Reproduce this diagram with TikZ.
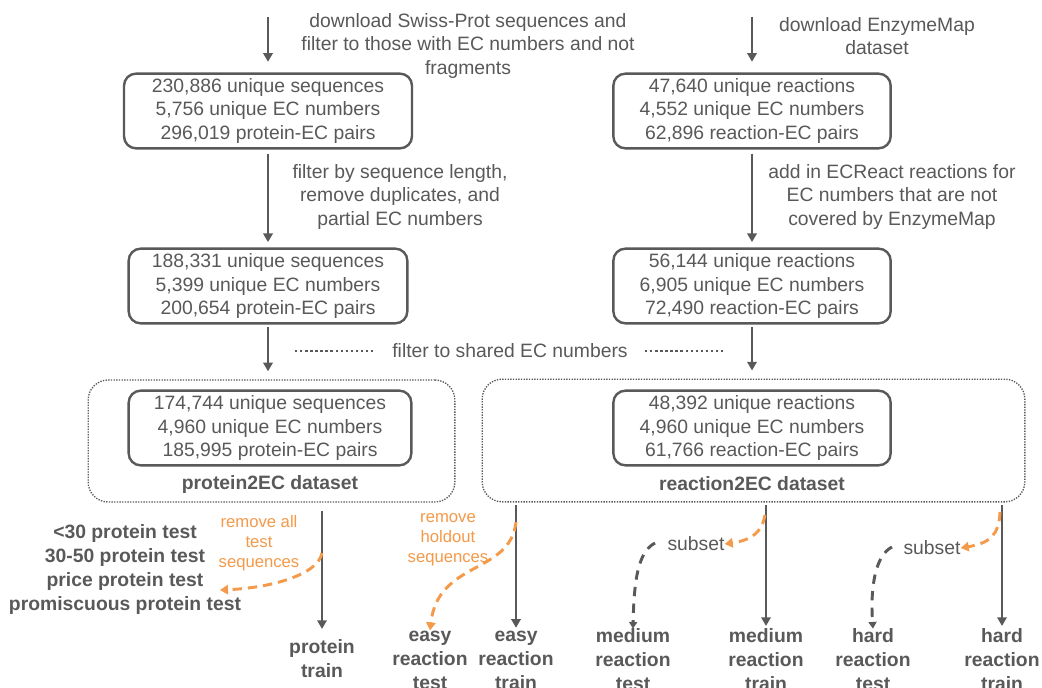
\documentclass[tikz,border=0pt]{standalone}
\usepackage{fontspec}
\setmainfont{Liberation Sans}
\usetikzlibrary{arrows.meta,positioning}
\definecolor{flowgray}{HTML}{595959}
\definecolor{floworange}{HTML}{F5994A}

\begin{document}
\begin{tikzpicture}[x=0.75pt,y=-0.75pt,
    stat node/.style={draw=flowgray,line width=1.8pt,rounded corners=9pt,align=center,text=flowgray,minimum height=56pt,inner sep=0pt,font=\fontsize{14.5}{17.4}\selectfont},
    set node/.style={draw=flowgray,line width=1pt,dash pattern=on 1pt off 1pt,rounded corners=15pt,inner sep=0pt},
    note/.style={align=center,text=flowgray,inner sep=0pt,font=\fontsize{14.5}{17.6}\selectfont},
    hint/.style={align=center,text=floworange,inner sep=0pt,font=\fontsize{12.5}{15}\selectfont},
    split/.style={align=center,text=flowgray,inner sep=0pt,font=\bfseries\fontsize{14.5}{18}\selectfont},
    flow/.style={draw=flowgray,line width=2.2pt,-{Triangle[length=6.5pt,width=7pt]}},
    dots/.style={draw=flowgray,line width=1.8pt,dash pattern=on 1.8pt off 2pt},
    odash/.style={draw=floworange,line width=2.2pt,dash pattern=on 7pt off 4.5pt,-{Triangle[length=6pt,width=7pt]}},
    gdash/.style={draw=flowgray,line width=2.2pt,dash pattern=on 7pt off 5.5pt,-{Triangle[length=5pt,width=6pt]}}]

    \fill[white] (0,0) rectangle (1042,688);
    \useasboundingbox (0,0) rectangle (1042,688);

    % stage boxes
    \node[stat node,minimum width=216pt] (1) at (268,111) {230,886 unique sequences\\5,756 unique EC numbers\\296,019 protein-EC pairs};
    \node[stat node,minimum width=208pt] (2) at (752,111) {47,640 unique reactions\\4,552 unique EC numbers\\62,896 reaction-EC pairs};
    \node[stat node,minimum width=209pt] (3) at (268,286) {188,331 unique sequences\\5,399 unique EC numbers\\200,654 protein-EC pairs};
    \node[stat node,minimum width=208pt] (4) at (752,286) {56,144 unique reactions\\6,905 unique EC numbers\\72,490 reaction-EC pairs};

    % the two datasets
    \node[set node,minimum width=275pt,minimum height=91.5pt] (pset) at (271.5,441) {};
    \node[set node,minimum width=407pt,minimum height=92pt] (rset) at (753.5,440.5) {};
    \node[stat node,minimum width=212pt] (5) at (270,428) {174,744 unique sequences\\4,960 unique EC numbers\\185,995 protein-EC pairs};
    \node[stat node,minimum width=208pt] (6) at (752,428) {48,392 unique reactions\\4,960 unique EC numbers\\61,766 reaction-EC pairs};
    \node[split] (plabel) at (270,484) {protein2EC dataset};
    \node[split] (rlabel) at (752,484) {reaction2EC dataset};

    % step notes
    \node[note] (n1) at (468,46) {download Swiss-Prot sequences and\\filter to those with EC numbers and not\\fragments};
    \node[note] (n2) at (877,36) {download EnzymeMap\\dataset};
    \node[note] (n3) at (400,197) {filter by sequence length,\\remove duplicates, and\\partial EC numbers};
    \node[note] (n4) at (892,197) {add in ECReact reactions for\\EC numbers that are not\\covered by EnzymeMap};
    \node[note] (n5) at (510,351) {filter to shared EC numbers};

    % splits
    \node[split] (ptest) at (125,569) {<30 protein test\\30-50 protein test\\price protein test\\promiscuous protein test};
    \node[split] (ptrain) at (322,659) {protein\\train};
    \node[split] (etest) at (430,660) {easy\\reaction\\test};
    \node[split] (etrain) at (516,660) {easy\\reaction\\train};
    \node[split] (mtest) at (633,660) {medium\\reaction\\test};
    \node[split] (mtrain) at (766,660) {medium\\reaction\\train};
    \node[split] (htest) at (873,660) {hard\\reaction\\test};
    \node[split] (htrain) at (1002,660) {hard\\reaction\\train};
    \node[hint] (h1) at (259,543) {remove all\\test\\sequences};
    \node[hint] (h2) at (448,540) {remove\\holdout\\sequences};
    \node[note] (s1) at (696,544) {subset};
    \node[note] (s2) at (932,548) {subset};

    \coordinate (t1) at (268,17);
    \coordinate (t2) at (752,17);
    \coordinate (d1) at (295,351);
    \coordinate (d2) at (645,351);

    \path[every edge/.style={flow}]
        (t1) edge[shorten >=8pt] (1)
        (t2) edge[shorten >=8pt] (2)
        (1) edge[shorten <=3pt,shorten >=4pt] (3)
        (2) edge[shorten <=3pt,shorten >=4pt] (4)
        (3) edge[shorten <=2pt,shorten >=6pt] (3 |- pset.north)
        (4) edge[shorten <=2pt,shorten >=6pt] (4 |- rset.north)
        (pset.south -| ptrain) edge[shorten <=6pt,shorten >=8pt] (ptrain.north)
        (rset.south -| etrain) edge[shorten <=2pt,shorten >=2pt] (etrain.north)
        (rset.south -| mtrain) edge[shorten <=2pt,shorten >=2pt] (mtrain.north)
        (rset.south -| htrain) edge[shorten <=2pt,shorten >=2pt] (htrain.north);
    \draw[dots] (d1) -- ++(78,0);
    \draw[dots] (d2) -- ++(78,0);

    % held out parts
    \coordinate (o1) at (322,553);
    \coordinate (o1e) at (220,590);
    \coordinate (o2) at (516,522);
    \coordinate (o3) at (765,515);
    \coordinate (o4) at (1000,512);
    \coordinate (g3) at (655,543);
    \coordinate (g4) at (892,547);
    \draw[odash] (o1) .. controls (318,575) and (270,588) .. (o1e);
    \draw[odash] (o2) .. controls (510,575) and (438,560) .. (etest.north);
    \draw[odash] (o3) .. controls (762,532) and (752,540) .. (s1.east);
    \draw[odash] (o4) .. controls (999,535) and (990,543) .. (s2.east);
    \draw[gdash] (g3) .. controls (638,552) and (634,580) .. (mtest.north);
    \draw[gdash] (g4) .. controls (876,555) and (870,585) .. (htest.north);
\end{tikzpicture}
\end{document}
